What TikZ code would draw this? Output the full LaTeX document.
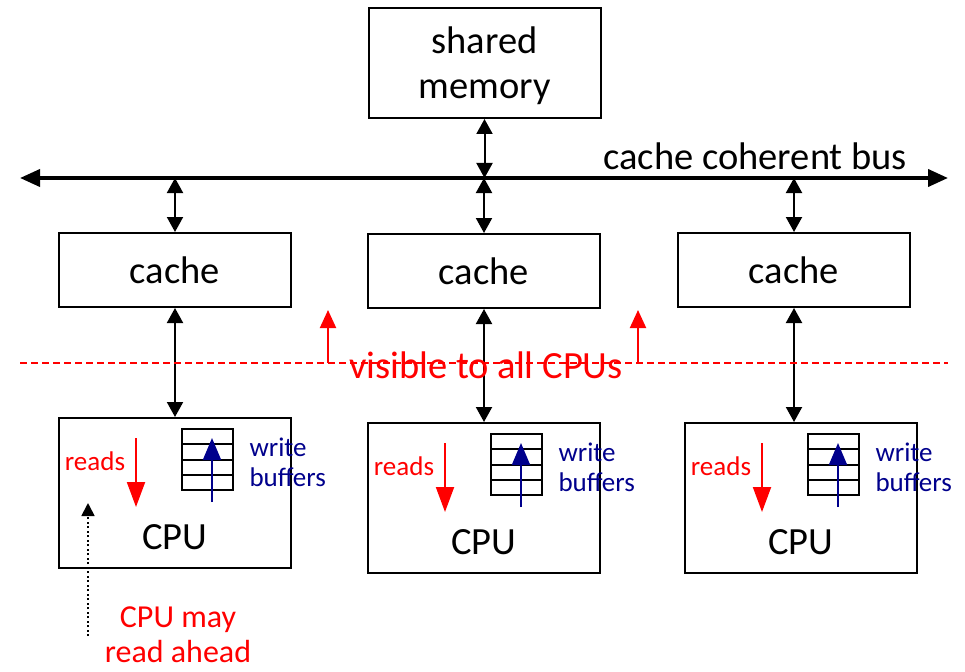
\documentclass[tikz,border=0pt]{standalone}
\usepackage{fontspec}
\setmainfont{Carlito}
\usetikzlibrary{arrows.meta,calc}
\definecolor{navy}{RGB}{0,0,140}
\tikzset{
  unit/.style={draw, line width=2pt, minimum width=232pt, inner sep=0pt},
  bigtxt/.style={font=\fontsize{38.5}{45}\selectfont},
  smalltxt/.style={font=\fontsize{27}{30}\selectfont},
  link/.style={line width=2pt, {Triangle[length=15pt,width=16pt]}-{Triangle[length=15pt,width=16pt]}},
  busline/.style={line width=3.8pt, {Triangle[length=20pt,width=17pt]}-{Triangle[length=20pt,width=17pt]}},
  readarrow/.style={red, line width=2pt, -{Triangle[length=25pt,width=18pt]}},
  writearrow/.style={navy, line width=2pt, -{Triangle[length=22pt,width=18pt]}},
  bufbox/.style={draw, line width=2pt, minimum width=51pt, minimum height=61pt, inner sep=0pt},
}
\begin{document}
\begin{tikzpicture}[x=1pt,y=-1pt]
\useasboundingbox (0,0) rectangle (965,671);

% shared memory and the bus
\node[unit, minimum height=110pt] (mem) at (484.5,63) {};
\node[bigtxt, align=center] (memlabel) at (484.5,66) {shared\\memory};
\coordinate (busL) at (20,178);
\coordinate (busR) at (948,178);
\draw[busline] (busL) -- (busR);
\node[bigtxt, anchor=base west] (buslabel) at (600,169) {cache coherent bus};
\coordinate (bm) at (mem.south |- busL);
\draw[link] (mem.south) -- (bm);

% the three caches and CPUs
\foreach \i/\cx/\cy/\dx/\dy in {1/175/270/0/0, 2/484/271/309/5, 3/794/270/626/5}{
  \node[unit, minimum height=74pt, bigtxt] (cache\i) at (\cx,\cy) {cache};
  \coordinate (bus\i) at (cache\i.north |- busL);
  \draw[link] (bus\i) -- (cache\i.north);
  \node[unit, minimum height=150pt] (cpu\i) at ({175+\dx},{493+\dy}) {};
  \node[bigtxt] (cpulabel\i) at ({175+\dx},{537+\dy}) {CPU};
  \draw[link] (cache\i.south) -- (cache\i.south |- cpu\i.north);
  % reads
  \node[smalltxt, red] (reads\i) at ({95+\dx},{461+\dy}) {reads};
  \coordinate (rtop\i) at ({136+\dx},{438+\dy});
  \coordinate (rbot\i) at ({136+\dx},{507+\dy});
  \draw[readarrow] (rtop\i) -- (rbot\i);
  % write buffers
  \node[bufbox] (buf\i) at ({207.5+\dx},{459.5+\dy}) {};
  \foreach \f in {0.25,0.5,0.75}
    \draw[line width=2pt] ($(buf\i.north west)!\f!(buf\i.south west)$) -- ($(buf\i.north east)!\f!(buf\i.south east)$);
  \coordinate (wbot\i) at ({212+\dx},{502+\dy});
  \coordinate (wtop\i) at ({212+\dx},{438+\dy});
  \draw[writearrow] (wbot\i) -- (wtop\i);
  \node[smalltxt, navy, align=left, anchor=west] (wlabel\i) at ({246+\dx},{462+\dy}) {write\\buffers};
}

% visibility boundary
\coordinate (visL) at (20,363);
\coordinate (visR) at (948,363);
\draw[red, line width=1.5pt, dash pattern=on 7pt off 4pt] (visL) -- (visR);
\node[red, bigtxt] (vislabel) at (486,365) {visible to all CPUs};
\foreach \x [count=\k] in {328,638}{
  \coordinate (vb\k) at (\x,363);
  \coordinate (vt\k) at (\x,310);
  \draw[red, line width=2pt, -{Triangle[length=18pt,width=16pt]}] (vb\k) -- (vt\k);
}

% read-ahead note
\node[red, font=\fontsize{32}{35}\selectfont, align=center] (ahead) at (178,635) {CPU may\\read ahead};
\coordinate (dotbot) at (88,636);
\coordinate (dottop) at (88,503);
\draw[line width=1.8pt, dash pattern=on 2pt off 2.5pt, -{Triangle[length=13pt,width=13pt]}] (dotbot) -- (dottop);
\end{tikzpicture}
\end{document}
